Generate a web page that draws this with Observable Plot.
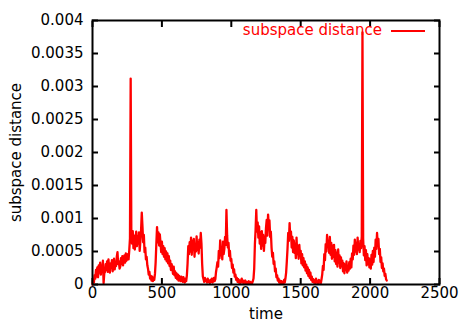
<!DOCTYPE html>
<html><head><meta charset="utf-8">
<script src="https://cdn.jsdelivr.net/npm/d3@7"></script>
<script src="https://cdn.jsdelivr.net/npm/@observablehq/plot@0.6"></script>
<style>
html,body{margin:0;padding:0;background:#fff;}
#wrap{position:relative;width:461px;height:322px;font-family:"DejaVu Sans",sans-serif;}
#legend{position:absolute;top:22px;right:36px;display:flex;align-items:center;gap:9px;color:#ff0000;font-size:15px;line-height:17px;}
#legend .swatch{display:inline-block;width:34px;height:2px;background:#ff0000;}
</style></head><body><div id="wrap"></div>
<script>
const xTicks = [0, 500, 1000, 1500, 2000, 2500];
const yTicks = [0, 0.0005, 0.001, 0.0015, 0.002, 0.0025, 0.003, 0.0035, 0.004];
const seriesName = "subspace distance";
const xLabel = "time";
const yLabel = "subspace distance";
const timeStep = 5;
// subspace distance sampled every 5 time units, t = 0 .. 2120
const distance = [
  0, 0.6e-4, 0.3e-4, 1.4e-4, 0.9e-4, 2.2e-4, 1.2e-4, 2.6e-4, 1.1e-4, 2.9e-4,
  1.8e-4, 3.3e-4, 1.5e-4, 2.7e-4, 2.4e-4, 3.6e-4, 0.2e-4, 1.7e-4, 1.9e-4, 3.1e-4,
  2.2e-4, 3.5e-4, 1.9e-4, 3.8e-4, 2.4e-4, 1.8e-4, 3.2e-4, 2.6e-4, 3.7e-4, 2.0e-4,
  2.9e-4, 3.9e-4, 2.3e-4, 3.4e-4, 2.8e-4, 4.2e-4, 4.9e-4, 3.1e-4, 3.5e-4, 2.4e-4,
  2.7e-4, 4.0e-4, 3.1e-4, 4.3e-4, 2.9e-4, 3.8e-4, 4.4e-4, 3.3e-4, 4.7e-4, 3.6e-4,
  3.9e-4, 4.6e-4, 3.8e-4, 5.2e-4, 7.0e-4, 31.2e-4, 6.8e-4, 6.2e-4, 8.1e-4, 5.5e-4,
  7.4e-4, 5.3e-4, 6.9e-4, 8.0e-4, 5.8e-4, 7.3e-4, 6.2e-4, 7.9e-4, 5.1e-4, 6.6e-4,
  8.2e-4, 10.9e-4, 8.8e-4, 6.4e-4, 7.5e-4, 4.9e-4, 5.6e-4, 3.8e-4, 4.2e-4, 2.9e-4,
  2.4e-4, 1.5e-4, 1.9e-4, 0.9e-4, 1.3e-4, 0.6e-4, 1.2e-4, 0.5e-4, 0.9e-4, 0.7e-4,
  1.6e-4, 3.4e-4, 6.2e-4, 8.7e-4, 6.4e-4, 7.9e-4, 5.9e-4, 7.6e-4, 6.3e-4, 4.9e-4,
  6.5e-4, 4.6e-4, 5.8e-4, 4.2e-4, 5.5e-4, 3.8e-4, 5.0e-4, 3.5e-4, 4.7e-4, 3.2e-4,
  4.3e-4, 2.8e-4, 3.6e-4, 2.2e-4, 3.1e-4, 2.5e-4, 1.6e-4, 2.7e-4, 1.4e-4, 2.0e-4,
  1.0e-4, 1.7e-4, 0.8e-4, 1.5e-4, 0.6e-4, 1.3e-4, 0.9e-4, 0.5e-4, 1.2e-4, 0.7e-4,
  0.4e-4, 1.1e-4, 0.6e-4, 0.3e-4, 0.9e-4, 0.5e-4, 1.4e-4, 3.2e-4, 5.8e-4, 4.6e-4,
  6.4e-4, 5.0e-4, 7.1e-4, 4.5e-4, 6.6e-4, 5.4e-4, 6.9e-4, 4.2e-4, 6.1e-4, 5.0e-4,
  7.3e-4, 5.2e-4, 6.4e-4, 4.7e-4, 6.8e-4, 5.6e-4, 7.8e-4, 6.2e-4, 3.1e-4, 1.2e-4,
  0.8e-4, 0.4e-4, 1.0e-4, 0.5e-4, 0.7e-4, 0.3e-4, 0.9e-4, 0.4e-4, 0.6e-4, 0.2e-4,
  0.7e-4, 0.4e-4, 0.9e-4, 0.3e-4, 0.6e-4, 1.0e-4, 0.5e-4, 0.8e-4, 1.9e-4, 2.6e-4,
  3.4e-4, 2.7e-4, 5.1e-4, 4.0e-4, 6.7e-4, 4.4e-4, 5.6e-4, 3.8e-4, 6.5e-4, 4.6e-4,
  5.4e-4, 7.2e-4, 6.0e-4, 11.3e-4, 7.4e-4, 5.6e-4, 6.3e-4, 4.3e-4, 5.1e-4, 3.6e-4,
  3.9e-4, 2.5e-4, 3.0e-4, 1.8e-4, 2.3e-4, 1.2e-4, 1.5e-4, 0.7e-4, 1.0e-4, 0.4e-4,
  0.8e-4, 0.3e-4, 0.6e-4, 0.2e-4, 0.5e-4, 0.9e-4, 0.3e-4, 0.6e-4, 0.2e-4, 0.4e-4,
  0.6e-4, 0.2e-4, 0.4e-4, 0.1e-4, 0.3e-4, 0.5e-4, 0.2e-4, 0.4e-4, 0.1e-4, 0.3e-4,
  0.2e-4, 0.5e-4, 0.9e-4, 2.4e-4, 6.1e-4, 8.3e-4, 11.3e-4, 8.0e-4, 9.4e-4, 7.1e-4,
  8.8e-4, 6.2e-4, 7.9e-4, 5.4e-4, 8.1e-4, 5.9e-4, 7.5e-4, 5.1e-4, 7.0e-4, 6.3e-4,
  8.6e-4, 9.8e-4, 7.4e-4, 10.6e-4, 8.9e-4, 9.7e-4, 7.2e-4, 8.0e-4, 5.6e-4, 4.2e-4,
  4.8e-4, 3.1e-4, 3.5e-4, 2.0e-4, 2.4e-4, 1.1e-4, 1.4e-4, 0.6e-4, 0.9e-4, 0.3e-4,
  0.6e-4, 0.2e-4, 0.5e-4, 0.1e-4, 0.4e-4, 0.2e-4, 0.7e-4, 0.3e-4, 0.9e-4, 1.8e-4,
  3.5e-4, 5.4e-4, 7.8e-4, 6.6e-4, 9.3e-4, 7.0e-4, 8.0e-4, 5.6e-4, 7.2e-4, 4.9e-4,
  6.7e-4, 4.8e-4, 6.2e-4, 4.0e-4, 7.1e-4, 4.6e-4, 5.8e-4, 3.9e-4, 6.0e-4, 4.4e-4,
  5.1e-4, 3.2e-4, 4.6e-4, 2.9e-4, 4.0e-4, 2.6e-4, 3.5e-4, 2.1e-4, 3.0e-4, 1.7e-4,
  2.6e-4, 1.3e-4, 2.2e-4, 1.0e-4, 1.8e-4, 0.7e-4, 1.2e-4, 0.4e-4, 0.8e-4, 0.3e-4,
  0.6e-4, 0.2e-4, 0.9e-4, 0.3e-4, 0.5e-4, 0.1e-4, 0.7e-4, 0.3e-4, 0.6e-4, 0.2e-4,
  0.8e-4, 1.5e-4, 2.8e-4, 2.2e-4, 4.6e-4, 3.7e-4, 6.1e-4, 5.0e-4, 7.5e-4, 5.8e-4,
  6.6e-4, 4.8e-4, 7.2e-4, 4.5e-4, 6.3e-4, 3.9e-4, 5.9e-4, 4.2e-4, 6.0e-4, 3.5e-4,
  5.2e-4, 3.1e-4, 4.8e-4, 2.7e-4, 5.3e-4, 3.3e-4, 4.4e-4, 2.5e-4, 4.1e-4, 2.8e-4,
  3.6e-4, 2.0e-4, 3.2e-4, 1.7e-4, 3.0e-4, 2.2e-4, 3.5e-4, 1.8e-4, 2.8e-4, 2.1e-4,
  3.4e-4, 2.4e-4, 3.9e-4, 2.6e-4, 4.7e-4, 3.8e-4, 5.9e-4, 4.5e-4, 6.8e-4, 5.0e-4,
  6.3e-4, 4.6e-4, 7.1e-4, 5.3e-4, 6.0e-4, 4.9e-4, 6.6e-4, 5.5e-4, 7.3e-4, 38.2e-4,
  6.9e-4, 4.4e-4, 5.8e-4, 3.7e-4, 5.2e-4, 2.9e-4, 4.6e-4, 3.1e-4, 4.0e-4, 2.6e-4,
  3.8e-4, 2.4e-4, 4.5e-4, 3.0e-4, 5.1e-4, 3.4e-4, 5.6e-4, 4.2e-4, 6.8e-4, 5.4e-4,
  7.8e-4, 6.0e-4, 6.9e-4, 4.6e-4, 5.4e-4, 3.4e-4, 4.1e-4, 2.5e-4, 3.2e-4, 2.0e-4,
  2.4e-4, 1.3e-4, 1.6e-4, 0.8e-4, 0.6e-4
];
const time = distance.map((_, i) => i * timeStep);
const data = time.map((t, i) => ({time: t, distance: distance[i]}));

const chart = Plot.plot({
  width: 461, height: 322,
  marginLeft: 92, marginRight: 22, marginTop: 20, marginBottom: 38,
  style: {fontFamily: "'DejaVu Sans', sans-serif", fontSize: "15px", color: "black", background: "white"},
  x: {domain: [0, 2500]},
  y: {domain: [0, 0.004]},
  marks: [
    Plot.axisX({ticks: xTicks, tickSize: -6, tickPadding: 9, tickFormat: d => String(d), strokeWidth: 2,
      label: xLabel, labelAnchor: "center", labelOffset: 34, labelArrow: "none"}),
    Plot.axisX({anchor: "top", ticks: xTicks, tickSize: -6, tickFormat: () => "", strokeWidth: 2, label: null}),
    Plot.axisY({ticks: yTicks, tickSize: -6, tickPadding: 15, tickFormat: d => String(d), strokeWidth: 2,
      label: yLabel, labelAnchor: "center", labelOffset: 82, labelArrow: "none"}),
    Plot.axisY({anchor: "right", ticks: yTicks, tickSize: -6, tickFormat: () => "", strokeWidth: 2, label: null}),
    Plot.line(data, {x: "time", y: "distance", stroke: "#ff0000", strokeWidth: 2.3}),
    Plot.frame({stroke: "black", strokeWidth: 2})
  ]
});
const wrap = document.getElementById("wrap");
wrap.appendChild(chart);
const legend = document.createElement("div");
legend.id = "legend";
const lt = document.createElement("span");
lt.textContent = seriesName;
const sw = document.createElement("span");
sw.className = "swatch";
legend.appendChild(lt);
legend.appendChild(sw);
wrap.appendChild(legend);
</script>
</body></html>
